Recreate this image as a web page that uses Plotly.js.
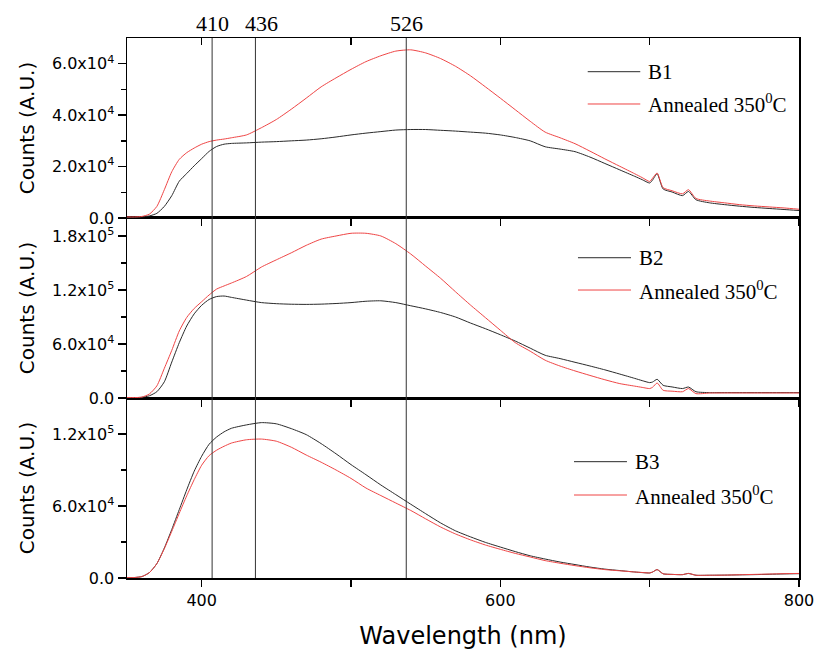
<!DOCTYPE html>
<html><head><meta charset="utf-8">
<script src="https://cdn.plot.ly/plotly-3.0.1.min.js"></script>
<style>html,body{margin:0;padding:0;background:#fff}</style>
</head><body><div id="chart" style="width:816px;height:650px"></div>
<script>
// Wavelength grid (nm)
const wavelength = [350,355,360,365,370,375,380,385,390,395,400,405,410,415,420,430,440,450,460,470,480,490,500,510,520,530,540,550,560,570,580,590,600,610,620,630,640,650,660,670,680,690,695,700,702,705,709,715,722,726,731,740,750,760,770,780,790,800];

// Panel 1: B1
const b1 = [300,300,400,800,1800,4500,8700,14300,17300,20300,23100,25900,27800,28700,29000,29200,29500,29700,30000,30300,30800,31500,32300,33000,33600,34200,34400,34400,34100,33800,33400,33000,32300,31300,30000,27700,26800,25800,23700,21200,18700,16200,14900,13600,14800,17200,11300,10100,8700,10300,7100,5900,5200,4600,4100,3700,3300,2900];
const b1Annealed = [400,400,600,1500,4500,11000,18000,22800,25400,27200,28700,29700,30300,30700,31200,32300,35100,38300,42300,46600,51000,54500,57800,60800,63100,64900,65400,64200,62000,59000,55300,51000,46600,42100,37600,33400,31200,28900,26000,23000,20100,17200,15700,14200,15500,17500,11800,10600,9400,11000,7600,6600,5900,5200,4700,4300,3900,3400];

// Panel 2: B2
const b2 = [500,500,800,2500,7000,18000,40000,61500,80000,93500,103000,109500,112700,113300,111800,108800,106000,104800,104200,104000,104300,105000,106000,107500,108000,106000,102500,99000,95000,90000,83300,77000,70300,63300,55400,47500,43800,39700,35600,31300,26600,21800,19300,17100,17800,20800,14100,12300,10500,12200,7000,6000,6000,6000,6000,6000,6000,6000];
const b2Annealed = [500,500,1000,4500,13500,33000,53000,74500,89500,99500,107000,114500,121000,124500,127800,135000,145500,153500,161300,169600,176500,180000,183000,183000,180000,171500,160000,146500,133000,118000,103300,89300,75300,61500,52000,42000,35500,30100,25100,20300,16000,13200,11800,10500,12000,16700,8600,7600,7000,10500,4900,5500,5600,5600,5600,5600,5600,5600];

// Panel 3: B3
const b3 = [300,400,1200,4500,12000,25000,40500,57000,73500,89000,101500,111500,117500,121800,124800,127600,129500,128500,124500,119500,112000,103500,94500,86100,77500,69500,61500,53600,45900,39300,34300,29700,25800,22000,18500,15800,13300,11200,9100,7400,6200,5000,4500,4200,5000,7000,3500,3000,2800,3800,2300,2300,2400,2600,2800,3100,3400,3600];
const b3Annealed = [300,400,1200,4500,12000,24500,39000,54000,68500,82000,94000,102000,106500,109800,112500,115200,115800,114000,109000,102500,96500,90000,83000,75000,68700,62500,56300,49300,42500,36700,31800,27500,23900,20500,17500,14500,12300,10300,8500,7000,6000,5000,4600,4200,5000,7000,3500,3000,2800,3800,2300,2300,2400,2700,3000,3300,3600,3800];

const sampleNames = ['B1','B2','B3'];
const annealedName = 'Annealed 350<sup>0</sup>C';

// Marker lines (drawn position) and their labels
const peakLines = [407, 436, 537];
const peakLabels = ['410','436','526'];

// Ticks
const xTickVals = [400,500,600,700,800];
const xTickText = ['400','','600','','800'];
const y1TickVals = [0,20000,40000,60000];
const y1TickText = ['0.0','2.0x10<sup>4</sup>','4.0x10<sup>4</sup>','6.0x10<sup>4</sup>'];
const y1Minor = [10000,30000,50000];
const y2TickVals = [0,60000,120000,180000];
const y2TickText = ['0.0','6.0x10<sup>4</sup>','1.2x10<sup>5</sup>','1.8x10<sup>5</sup>'];
const y2Minor = [30000,90000,150000];
const y3TickVals = [0,60000,120000];
const y3TickText = ['0.0','6.0x10<sup>4</sup>','1.2x10<sup>5</sup>'];
const y3Minor = [30000,90000];

const BLACK = '#2a2a2a';
const RED = '#ef4545';
const SANS = 'DejaVu Sans, sans-serif';
const SERIF = 'Liberation Serif, Times New Roman, serif';

const panels = [
  {x:'x3', y:'y3', ser:[b1, b1Annealed], name: sampleNames[0]},
  {x:'x2', y:'y2', ser:[b2, b2Annealed], name: sampleNames[1]},
  {x:'x',  y:'y',  ser:[b3, b3Annealed], name: sampleNames[2]},
];

const traces = [];
panels.forEach(p => {
  traces.push({x: wavelength, y: p.ser[0], xaxis: p.x, yaxis: p.y, mode:'lines', line:{color:BLACK, width:1, shape:'spline', smoothing:0.6}, name:p.name, showlegend:false, hoverinfo:'skip'});
  traces.push({x: wavelength, y: p.ser[1], xaxis: p.x, yaxis: p.y, mode:'lines', line:{color:RED, width:1, shape:'spline', smoothing:0.6}, name:annealedName, showlegend:false, hoverinfo:'skip'});
});
// empty trace to activate the top tick axis of the upper panel
traces.push({x: [], y: [], xaxis:'x4', yaxis:'y3', mode:'lines', showlegend:false, hoverinfo:'skip'});

function xAxis(anchor, labels) {
  return {anchor: anchor, range:[350,800], showline:true, linecolor:'#000', linewidth:1.5, mirror:true,
    ticks:'outside', ticklen:7, tickwidth:1.5, tickcolor:'#000', tickmode:'array', tickvals:xTickVals, ticktext:xTickText,
    showticklabels: labels, showgrid:false, zeroline:false, tickfont:{family:SANS, size:16, color:'#000'}};
}
function yAxis(domain, anchor, range, tv, tt, mv) {
  return {domain: domain, anchor: anchor, range: range, showline:true, linecolor:'#000', linewidth:1.5, mirror:true,
    ticks:'outside', ticklen:8, tickwidth:1.5, tickcolor:'#000', tickmode:'array', tickvals:tv, ticktext:tt,
    minor:{tickmode:'array', tickvals:mv, ticks:'outside', ticklen:5, tickwidth:1.5, tickcolor:'#000', showgrid:false},
    showgrid:false, zeroline:false, tickfont:{family:SANS, size:16, color:'#000'},
    title:{text:'Counts (A.U.)', font:{family:SANS, size:20, color:'#000'}, standoff:12}};
}

const layout = {
  width:816, height:650,
  margin:{l:127, r:17, t:38, b:72},
  paper_bgcolor:'#fff', plot_bgcolor:'#fff',
  showlegend:false,
  xaxis: Object.assign(xAxis('y', true), {title:{text:'Wavelength (nm)', font:{family:SANS, size:24, color:'#000'}, standoff:22}}),
  xaxis2: xAxis('y2', false),
  xaxis3: xAxis('y3', false),
  xaxis4: {overlaying:'x3', anchor:'y3', side:'top', range:[350,800], showline:false, ticks:'inside', ticklen:7, tickwidth:1.5, tickcolor:'#000',
    tickmode:'array', tickvals:xTickVals, showticklabels:false, showgrid:false, zeroline:false},
  yaxis: yAxis([0, 0.3333], 'x', [0,150000], y3TickVals, y3TickText, y3Minor),
  yaxis2: yAxis([0.3333, 0.6667], 'x2', [0,200000], y2TickVals, y2TickText, y2Minor),
  yaxis3: yAxis([0.6667, 1], 'x3', [0,70000], y1TickVals, y1TickText, y1Minor),
  shapes: [],
  annotations: []
};

// vertical marker lines across all panels
peakLines.forEach((v, i) => {
  layout.shapes.push({type:'line', xref:'x', yref:'paper', x0:v, x1:v, y0:0, y1:1, line:{color:'#333', width:1}});
  layout.annotations.push({xref:'x', yref:'paper', x:v, y:1, yanchor:'bottom', xanchor:'center', yshift:0,
    xshift: (i === 1 ? 6 : 0), showarrow:false, text:peakLabels[i], font:{family:SERIF, size:22, color:'#000'}});
});

// manual legends (paper coordinates)
const legendPos = [
  {x0:0.6856, x1:0.7638, xt:0.7719, y1:0.9376, y2:0.8778},
  {x0:0.6711, x1:0.7500, xt:0.7589, y1:0.5931, y2:0.5333},
  {x0:0.6652, x1:0.7440, xt:0.7530, y1:0.2154, y2:0.1537},
];
legendPos.forEach((L, i) => {
  [[L.y1, BLACK, sampleNames[i]], [L.y2, RED, annealedName]].forEach(([yy, col, txt]) => {
    layout.shapes.push({type:'line', xref:'paper', yref:'paper', x0:L.x0, x1:L.x1, y0:yy, y1:yy, line:{color:col, width:1}});
    layout.annotations.push({xref:'paper', yref:'paper', x:L.xt, y:yy, xanchor:'left', yanchor:'middle', showarrow:false,
      text:txt, font:{family:SERIF, size:21, color:'#000'}});
  });
});

Plotly.newPlot('chart', traces, layout, {displayModeBar:false, staticPlot:true});
</script>
</body></html>
